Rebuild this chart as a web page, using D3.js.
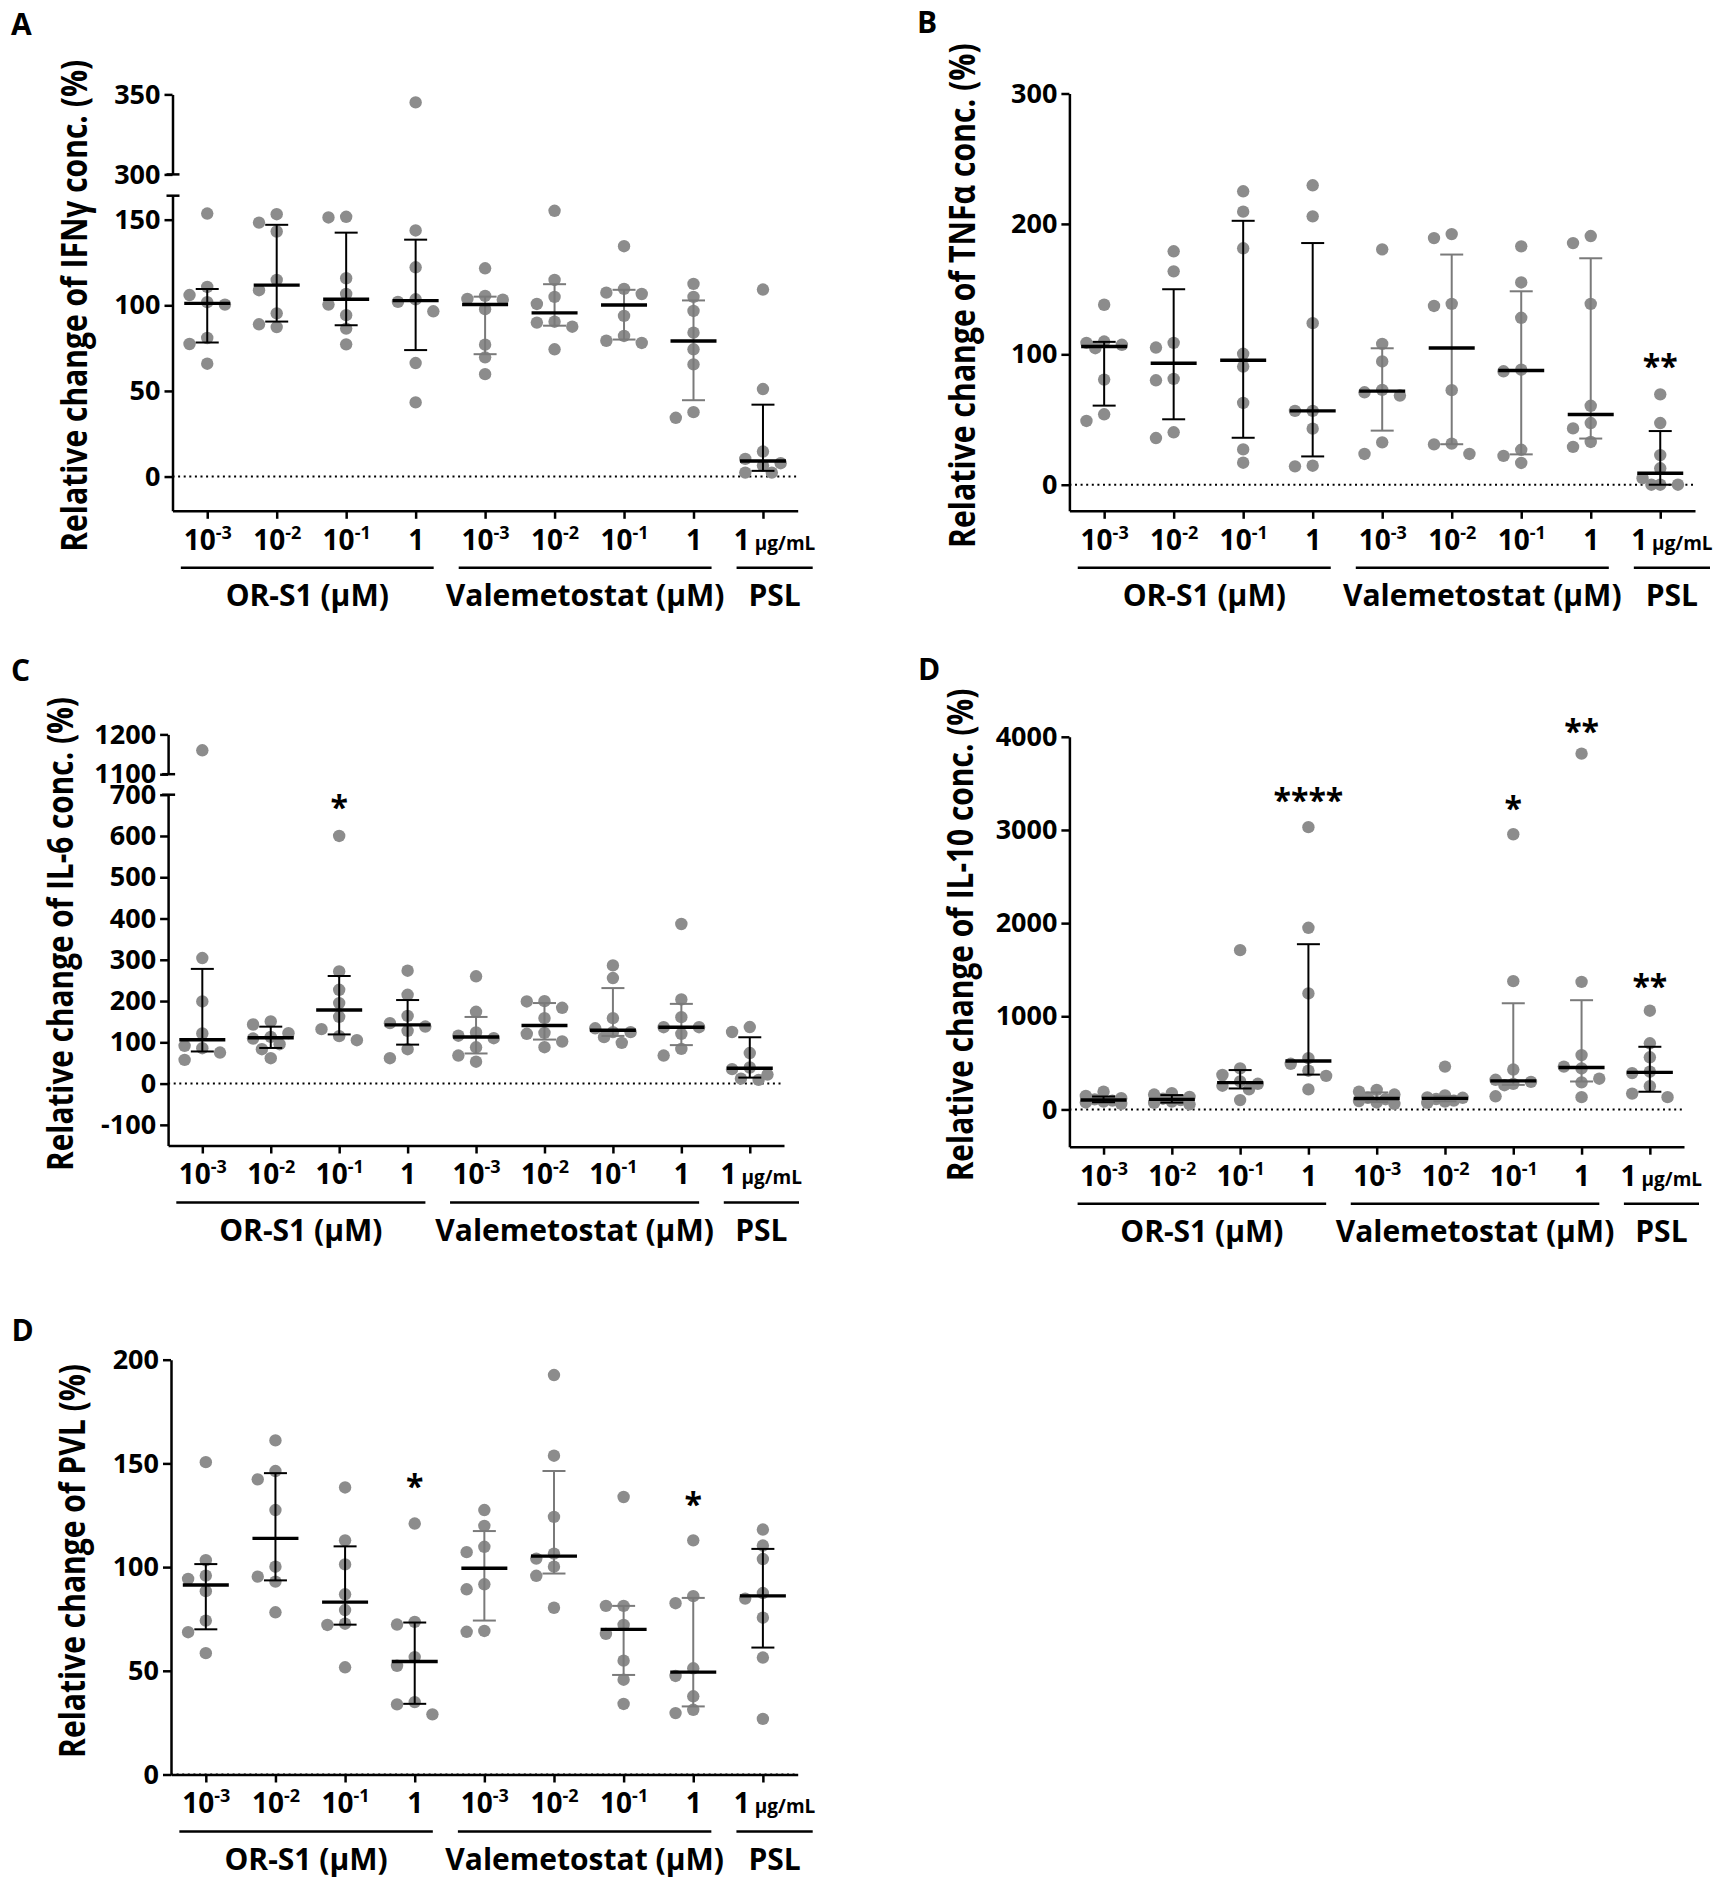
<!DOCTYPE html>
<html>
<head>
<meta charset="utf-8">
<script src="https://cdn.jsdelivr.net/npm/d3@7/dist/d3.min.js"></script>
<style>
  body { margin: 0; background: #fff; }
  svg text { font-family: "Open Sans", "DejaVu Sans", sans-serif; font-weight: 700; }
</style>
</head>
<body>
<svg id="fig" width="1713" height="1882"></svg>
<script>

// x categories: base, exponent, unit
var tickBase = ["10", "10", "10", "1", "10", "10", "10", "1", "1"],
    tickExp  = ["-3", "-2", "-1", "",  "-3", "-2", "-1", "",  ""],
    tickUnit = ["",   "",   "",   "",  "",   "",   "",   "",  " μg/mL"];

var groupNames = ["OR-S1 (μM)", "Valemetostat (μM)", "PSL"],
    groupFirst = [0, 4, 8],
    groupLast  = [3, 7, 8];

// relative change (%) per category
var ifng = [
  [153.6, 110.7, 106, 101.8, 100.4, 80.9, 77.4, 65.9],
  [153.2, 148.3, 143.1, 114.8, 108.8, 95.3, 88.9, 87.3],
  [151.7, 151.3, 115.8, 106.6, 100.4, 94.2, 86.4, 77.2],
  [345, 143.7, 122.2, 103.5, 102, 96.5, 66.3, 43.3],
  [121.6, 105.5, 103.7, 103.3, 97.7, 77, 69.6, 59.8],
  [155.2, 114.8, 104.9, 100.8, 90.4, 89.9, 87.5, 74.3],
  [134.5, 109.6, 107.4, 106.6, 93.8, 82.1, 79.3, 78],
  [112.5, 104.9, 96.7, 84, 74.3, 65.5, 37.6, 34.3],
  [109.2, 51.1, 14.6, 10.3, 7.8, 6.4, 2.3, 2.3]
];
var tnfa = [
  [138, 109.8, 108.8, 107.3, 104.7, 80.6, 54, 48.9],
  [179, 163.6, 108.8, 105.2, 81.2, 80.1, 40.2, 35.8],
  [225, 209.4, 181.3, 100.4, 90.6, 62.7, 27.1, 16.9],
  [229.6, 205.8, 123.9, 56.6, 56.6, 43, 14.6, 14.1],
  [180.5, 108, 94.5, 72.7, 70.9, 68.4, 32.5, 23.6],
  [192.2, 189.1, 138.7, 137.1, 72.5, 31.5, 30.9, 23.6],
  [182.8, 155.1, 128, 88.2, 87, 26.8, 22.1, 16.7],
  [190.7, 185.3, 138.7, 60.5, 47.3, 43.2, 32.8, 29],
  [69.3, 47.3, 22.7, 12.6, 5, 0, 0, 0]
];
var il6 = [
  [1160, 304.2, 199, 121.4, 91.4, 85.8, 75.2, 57.4],
  [150.5, 143.2, 122.2, 113.3, 109.2, 95.5, 83.3, 61.5],
  [600, 271.8, 227.3, 195, 161.8, 131.9, 114.9, 105.2],
  [273.5, 215.2, 164.2, 146.4, 138.3, 127.8, 83.3, 61.5],
  [260, 174, 124, 116, 110, 88, 68, 53],
  [199.8, 199, 183.7, 158.6, 123, 120.6, 102, 88.2],
  [286.4, 255.7, 158.6, 134, 124.6, 124.6, 112.5, 98.7],
  [386.7, 203.9, 161, 136.7, 136.7, 120.6, 84.1, 68],
  [137, 125, 74, 39, 35, 22, 12, 9]
];
var il10 = [
  [190, 145, 120, 108, 95, 85, 75, 60],
  [175, 160, 135, 115, 100, 85, 70, 55],
  [1710, 440, 370, 300, 275, 255, 215, 100],
  [3030, 1950, 1245, 550, 490, 416, 360, 215],
  [210, 190, 160, 125, 110, 90, 75, 60],
  [460, 150, 130, 125, 112, 95, 85, 70],
  [2954, 1377, 428, 318, 296, 274, 260, 141],
  [3819, 1369, 583, 460, 440, 330, 290, 132],
  [1060, 710, 560, 405, 390, 250, 170, 132]
];
var pvl = [
  [150.6, 103.3, 95.9, 94.3, 88.4, 74.2, 68.6, 58.5],
  [161.1, 146.3, 142.3, 127.5, 100.2, 95.4, 93, 78.2],
  [138.4, 112.9, 101.3, 86.9, 79.3, 72.7, 72.1, 51.7],
  [121, 73.6, 72.3, 56.6, 52.4, 34.9, 33.8, 29],
  [127.5, 119.9, 109.8, 107.2, 91.7, 89.3, 69.2, 68.8],
  [192.6, 153.7, 124.2, 106.5, 104.1, 100.2, 95.8, 80.4],
  [133.8, 81.3, 81.3, 72.1, 67.8, 54.9, 45.7, 34],
  [112.9, 86, 82.6, 51.2, 47.5, 37.7, 31.2, 29.6],
  [118.1, 110.4, 103.9, 87.5, 84.8, 75.6, 56.4, 26.8]
];

// axis ranges and ticks (lower segment / upper segment of broken axes)
var ifngLow = [-20, 164], ifngHigh = [300, 350],
    ifngTicksLow = [0, 50, 100, 150], ifngTicksHigh = [300, 350];
var tnfaLow = [-20, 300], tnfaTicks = [0, 100, 200, 300];
var il6Low = [-150, 700], il6High = [1100, 1200],
    il6TicksLow = [-100, 0, 100, 200, 300, 400, 500, 600, 700], il6TicksHigh = [1100, 1200];
var il10Low = [-400, 4000], il10Ticks = [0, 1000, 2000, 3000, 4000];
var pvlLow = [0, 200], pvlTicks = [0, 50, 100, 150, 200];

// significance marks: category, symbol, value level
var tnfaSig = [[8, "**", 95]];
var il6Sig = [[2, "*", 682]];
var il10Sig = [[3, "****", 3375], [6, "*", 3290], [7, "**", 4113], [8, "**", 1384]];
var pvlSig = [[3, "*", 141.5], [7, "*", 132.7]];

var svg = d3.select("#fig");
svg.append("rect").attr("width", 1713).attr("height", 1882).attr("fill", "#fff");

var dotR = 6.2, jitter = 17.7;

// quartiles the way Prism computes them
function quart(sorted, p) {
  var n = sorted.length, pos = p * (n + 1);
  if (pos <= 1) return sorted[0];
  if (pos >= n) return sorted[n - 1];
  var lo = Math.floor(pos), f = pos - lo;
  return sorted[lo - 1] + f * (sorted[lo] - sorted[lo - 1]);
}

// simple column swarm: centre, left, right
function swarm(ys) {
  var order = d3.range(ys.length).sort(function(a, b) { return ys[a] - ys[b]; }),
      placed = [], offs = [];
  order.forEach(function(i) {
    var cands = [0, -jitter, jitter, -jitter / 2, jitter / 2], best = 0, bestD = -1;
    for (var k = 0; k < cands.length; k++) {
      var d = d3.min(placed, function(p) { return Math.hypot(p[0] - cands[k], p[1] - ys[i]); });
      if (d === undefined) d = 1e9;
      if (d >= 2 * dotR) { best = cands[k]; bestD = d; break; }
      if (d > bestD) { bestD = d; best = cands[k]; }
    }
    offs[i] = best;
    placed.push([best, ys[i]]);
  });
  return offs;
}

var plain = function(d) { return String(d); };

function styleAxis(ax, fs) {
  ax.attr("font-size", null).attr("font-family", null);
  ax.select(".domain").attr("stroke", "#000").attr("stroke-width", 2.5);
  ax.selectAll(".tick line").attr("stroke", "#000").attr("stroke-width", 2.5);
  ax.selectAll(".tick text").attr("fill", "#000").attr("font-size", fs);
}

function drawPanel(p) {
  var g = svg.append("g");

  var x = d3.scalePoint()
      .domain(d3.range(tickBase.length))
      .range([p.x0, p.x1])
      .padding(0.5);
  var step = x.step();

  var yLow = d3.scaleLinear().domain(p.low).range([p.yB, p.yLowTop]);
  var yHigh = p.high ? d3.scaleLinear().domain(p.high).range([p.yHighBot, p.yHighTop]) : null;
  var y = function(v) { return (yHigh && v >= p.high[0]) ? yHigh(v) : yLow(v); };

  // dotted zero line
  g.append("line")
      .attr("x1", p.x0).attr("x2", p.x1)
      .attr("y1", yLow(0)).attr("y2", yLow(0))
      .attr("stroke", "#000").attr("stroke-width", 2)
      .attr("stroke-dasharray", "2,3.6");

  // points
  p.data.forEach(function(vals, i) {
    var ys = vals.map(y), offs = swarm(ys);
    g.selectAll(null)
        .data(vals)
      .enter().append("circle")
        .attr("cx", function(d, j) { return x(i) + offs[j]; })
        .attr("cy", function(d, j) { return ys[j]; })
        .attr("r", dotR)
        .attr("fill", "#8c8c8c");
  });

  // median with interquartile range
  p.data.forEach(function(vals, i) {
    var s = vals.slice().sort(d3.ascending),
        med = d3.median(s), q1 = quart(s, 0.25), q3 = quart(s, 0.75),
        col = (i >= groupFirst[1] && i <= groupLast[1]) ? "#7a7a7a" : "#000",
        cx = x(i);
    g.append("line").attr("x1", cx).attr("x2", cx).attr("y1", y(q1)).attr("y2", y(q3))
        .attr("stroke", col).attr("stroke-width", 2);
    [q1, q3].forEach(function(q) {
      g.append("line").attr("x1", cx - 11.5).attr("x2", cx + 11.5).attr("y1", y(q)).attr("y2", y(q))
          .attr("stroke", col).attr("stroke-width", 2);
    });
    g.append("line").attr("x1", cx - 23).attr("x2", cx + 23).attr("y1", y(med)).attr("y2", y(med))
        .attr("stroke", "#000").attr("stroke-width", 3.4);
  });

  // y axis (possibly broken)
  var ayl = g.append("g")
      .attr("transform", "translate(" + p.x0 + ",0)")
      .call(d3.axisLeft(yLow).tickValues(p.ticksLow).tickFormat(plain)
        .tickSize(8).tickSizeOuter(0).tickPadding(4));
  styleAxis(ayl, 27);
  if (yHigh) {
    var ayh = g.append("g")
        .attr("transform", "translate(" + p.x0 + ",0)")
        .call(d3.axisLeft(yHigh).tickValues(p.ticksHigh).tickFormat(plain)
          .tickSize(8).tickSizeOuter(0).tickPadding(4));
    styleAxis(ayh, 27);
    [p.yLowTop, p.yHighBot].forEach(function(yy) {
      g.append("line").attr("x1", p.x0 - 6).attr("x2", p.x0 + 7).attr("y1", yy).attr("y2", yy)
          .attr("stroke", "#000").attr("stroke-width", 2.5);
    });
  }

  // x axis
  var ax = g.append("g")
      .attr("transform", "translate(0," + p.yB + ")")
      .call(d3.axisBottom(x).tickSize(8).tickSizeOuter(0).tickPadding(11)
        .tickFormat(function(i) { return tickBase[i]; }));
  styleAxis(ax, 28);
  ax.selectAll(".tick text").each(function(i) {
    var t = d3.select(this);
    if (tickExp[i]) t.append("tspan").attr("dy", -11).attr("font-size", 18).text(tickExp[i]);
    if (tickUnit[i]) t.attr("dx", 0.16 * step).append("tspan").attr("font-size", 19).text(tickUnit[i]);
  });

  // group bars and names
  groupNames.forEach(function(name, k) {
    var xa = x(groupFirst[k]) - 0.38 * step,
        xb = (k === groupNames.length - 1) ? p.x1 + 15 : x(groupLast[k]) + 0.26 * step;
    g.append("line").attr("x1", xa).attr("x2", xb).attr("y1", p.yB + 57).attr("y2", p.yB + 57)
        .attr("stroke", "#000").attr("stroke-width", 2.5);
    g.append("text").attr("x", (xa + xb) / 2).attr("y", p.yB + 95)
        .attr("text-anchor", "middle").attr("font-size", 30).text(name);
  });

  // significance asterisks
  p.sig.forEach(function(s) {
    g.append("text").attr("x", x(s[0])).attr("y", y(s[2]) + 17)
        .attr("text-anchor", "middle").attr("font-size", 32).text(s[1]);
  });

  // y title, squeezed to the measured length
  var title = g.append("text")
      .attr("text-anchor", "middle")
      .attr("font-size", 36)
      .text(p.title);
  var natural = title.node().getComputedTextLength();
  title.attr("transform", "translate(" + (p.titleX + 12) + "," + p.titleY + ") rotate(-90) scale(" +
      (p.titleLen / natural) + ",1)");

  // panel letter
  svg.append("text").attr("x", p.labelX).attr("y", p.labelY).attr("font-size", 30).text(p.label);
}

drawPanel({ label: "A", labelX: 11, labelY: 35, data: ifng, sig: [],
  title: "Relative change of IFNγ conc. (%)", titleX: 74.5, titleY: 305.8, titleLen: 492,
  x0: 172.5, x1: 797.7, yB: 510.8, low: ifngLow, yLowTop: 195.7, ticksLow: ifngTicksLow,
  high: ifngHigh, yHighBot: 174.4, yHighTop: 94.4, ticksHigh: ifngTicksHigh });

drawPanel({ label: "B", labelX: 917, labelY: 33, data: tnfa, sig: tnfaSig,
  title: "Relative change of TNFα conc. (%)", titleX: 962.6, titleY: 295.6, titleLen: 505,
  x0: 1069.4, x1: 1695, yB: 510.8, low: tnfaLow, yLowTop: 93.5, ticksLow: tnfaTicks });

drawPanel({ label: "C", labelX: 11, labelY: 681, data: il6, sig: il6Sig,
  title: "Relative change of IL-6 conc. (%)", titleX: 60.6, titleY: 934, titleLen: 474,
  x0: 168.1, x1: 784, yB: 1145.5, low: il6Low, yLowTop: 794.7, ticksLow: il6TicksLow,
  high: il6High, yHighBot: 774.2, yHighTop: 734.4, ticksHigh: il6TicksHigh });

drawPanel({ label: "D", labelX: 918, labelY: 680, data: il10, sig: il10Sig,
  title: "Relative change of IL-10 conc. (%)", titleX: 961, titleY: 935, titleLen: 493,
  x0: 1069.4, x1: 1684, yB: 1146.7, low: il10Low, yLowTop: 736.8, ticksLow: il10Ticks });

drawPanel({ label: "D", labelX: 11.5, labelY: 1341, data: pvl, sig: pvlSig,
  title: "Relative change of PVL (%)", titleX: 73, titleY: 1561, titleLen: 394,
  x0: 171, x1: 797.7, yB: 1774.5, low: pvlLow, yLowTop: 1359.7, ticksLow: pvlTicks });

</script>
</body>
</html>
